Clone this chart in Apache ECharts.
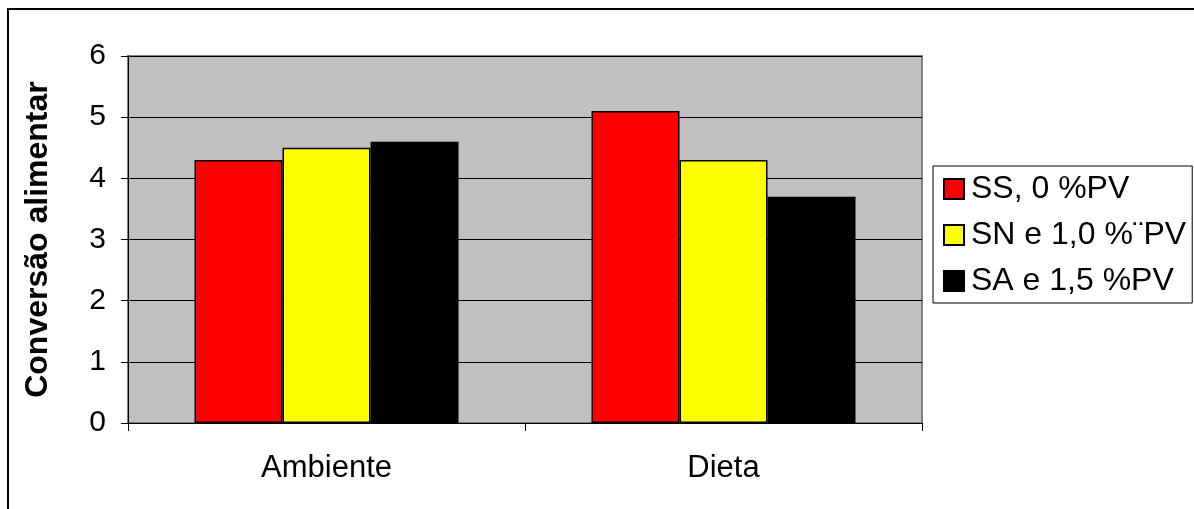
<!DOCTYPE html>
<html>
<head>
<meta charset="utf-8">
<script src="https://cdn.jsdelivr.net/npm/echarts@6/dist/echarts.min.js"></script>
<style>
  html, body { margin: 0; padding: 0; background: #fff; }
  #chart { width: 1194px; height: 509px; }
</style>
</head>
<body>
<div id="chart"></div>
<script>
// Feed conversion by factor (environment / diet) for three treatments
const categories = ['Ambiente', 'Dieta'];
const seriesNames = ['SS, 0 %PV', 'SN e 1,0 %\u00A8PV', 'SA e 1,5 %PV'];
const ssValues = [4.3, 5.1];
const snValues = [4.5, 4.3];
const saValues = [4.6, 3.7];
const yTicks = [0, 1, 2, 3, 4, 5, 6];

const colors = ['#FF0000', '#FFFF00', '#000000'];
const values = [ssValues, snValues, saValues];
const fontFamily = 'Liberation Sans, Arial, sans-serif';

const chart = echarts.init(document.getElementById('chart'));

chart.setOption({
  animation: false,
  backgroundColor: '#ffffff',
  graphic: [{
    type: 'rect',
    z: -10,
    shape: { x: 8, y: 9, width: 1200, height: 520 },
    style: { fill: 'none', stroke: '#000', lineWidth: 2 }
  }],
  grid: {
    left: 128, top: 56, width: 794, height: 367,
    show: true,
    backgroundColor: '#C0C0C0',
    borderColor: '#808080',
    borderWidth: 2
  },
  legend: {
    orient: 'vertical',
    left: 933, top: 166,
    padding: [7, 6, 6, 10],
    itemWidth: 20, itemHeight: 20,
    itemGap: 14,
    borderColor: '#000', borderWidth: 1,
    backgroundColor: '#fff',
    icon: 'rect',
    textStyle: { fontFamily, fontSize: 32, color: '#000', padding: [0, 0, 0, 2] },
    data: seriesNames
  },
  xAxis: {
    type: 'category',
    data: categories,
    axisLine: { show: true, lineStyle: { color: '#000', width: 1 } },
    axisTick: { show: true, alignWithLabel: false, length: 8, lineStyle: { color: '#000' } },
    axisLabel: { fontFamily, fontSize: 31, color: '#000', margin: 30 },
    splitLine: { show: false }
  },
  yAxis: {
    type: 'value',
    min: yTicks[0], max: yTicks[yTicks.length - 1], interval: 1,
    name: 'Convers\u00E3o alimentar',
    nameLocation: 'middle',
    nameRotate: 90,
    nameGap: 74,
    nameTextStyle: { fontFamily, fontSize: 32, fontWeight: 'bold', color: '#000' },
    axisLine: { show: true, lineStyle: { color: '#000', width: 1 } },
    axisTick: { show: true, length: 7, lineStyle: { color: '#000' } },
    axisLabel: { fontFamily, fontSize: 30, color: '#000', margin: 22 },
    splitLine: { show: true, lineStyle: { color: '#000', width: 1 } }
  },
  series: seriesNames.map((name, i) => ({
    name,
    type: 'bar',
    data: values[i],
    barWidth: 88,
    barGap: '0%',
    itemStyle: { color: colors[i], borderColor: '#000', borderWidth: 1.5 }
  }))
});
</script>
</body>
</html>
